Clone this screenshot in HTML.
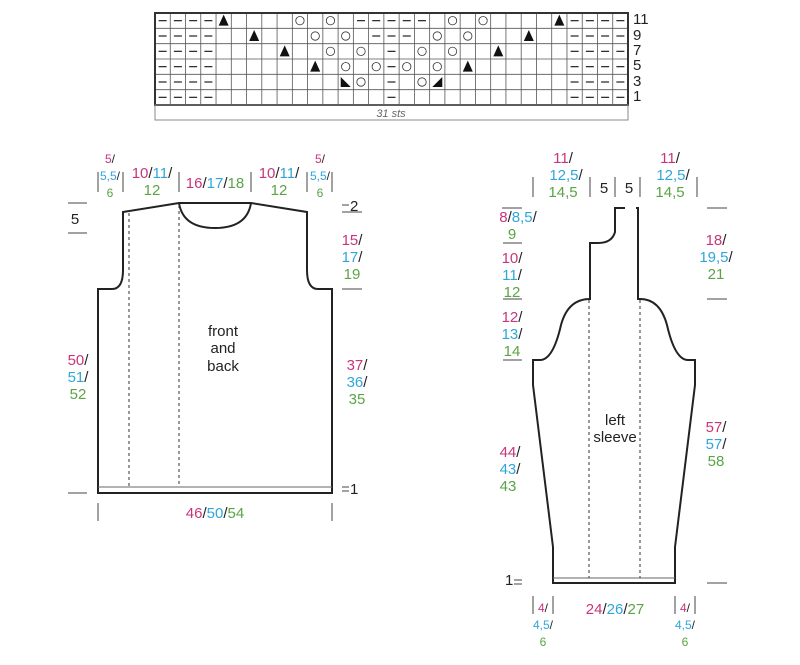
<!DOCTYPE html>
<html><head><meta charset="utf-8"><style>
html,body{margin:0;padding:0;background:#fff;}
svg{display:block;font-family:"Liberation Sans",sans-serif;}
.p{fill:#c8357a}.b{fill:#2fa6d9}.g{fill:#5aa446}.k{fill:#222}
text{font-size:15px}
.s{font-size:12px}
</style></head><body>
<svg id="s" width="800" height="665" viewBox="0 0 800 665" xmlns="http://www.w3.org/2000/svg">
<g id="chart" stroke="#555" stroke-width="0.8"></g>
<rect x="155" y="105" width="473" height="15" fill="none" stroke="#888" stroke-width="1"/>
<text x="391" y="117" text-anchor="middle" style="font-size:11px;font-style:italic" fill="#666">31 sts</text>
<g class="k" style="font-size:12px">
<text x="633" y="24">11</text><text x="633" y="40">9</text><text x="633" y="55">7</text>
<text x="633" y="70">5</text><text x="633" y="86">3</text><text x="633" y="101">1</text>
</g>

<!-- body -->
<g fill="none" stroke="#222" stroke-width="2">
<path d="M98,493 L98,289 L112,289 Q123,289 123,270 L123,212 L179,203 L251,203 L307,212 L307,270 Q307,289 318,289 L332,289 L332,493 Z"/>
<path d="M179,203 Q183,228 215,228 Q247,228 251,203"/>
</g>
<line x1="98" y1="487" x2="332" y2="487" stroke="#666" stroke-width="1"/>
<g stroke="#333" stroke-width="1" stroke-dasharray="3,3">
<line x1="129" y1="213" x2="129" y2="487"/><line x1="179" y1="205" x2="179" y2="487"/>
</g>
<g stroke="#444" stroke-width="1">
<line x1="68" y1="203" x2="87" y2="203"/><line x1="68" y1="233" x2="87" y2="233"/>
<line x1="68" y1="493" x2="87" y2="493"/>
<line x1="342" y1="212" x2="362" y2="212"/><line x1="342" y1="289" x2="362" y2="289"/>
<line x1="98" y1="503" x2="98" y2="521"/><line x1="332" y1="503" x2="332" y2="521"/>
<line x1="98" y1="172" x2="98" y2="192"/><line x1="123" y1="172" x2="123" y2="192"/>
<line x1="179" y1="172" x2="179" y2="192"/><line x1="251" y1="172" x2="251" y2="192"/>
<line x1="307" y1="172" x2="307" y2="192"/><line x1="332" y1="172" x2="332" y2="192"/>
</g>
<text x="75" y="224" text-anchor="middle" class="k">5</text>
<text x="350" y="211" class="k">2</text>
<text x="350" y="494" class="k">1</text>
<line x1="342" y1="487" x2="349" y2="487" stroke="#444"/><line x1="342" y1="491" x2="349" y2="491" stroke="#444"/>
<line x1="342" y1="205" x2="349" y2="205" stroke="#444"/>
<text x="110" y="163" text-anchor="middle" class="s"><tspan class="p">5</tspan><tspan class="k">/</tspan></text>
<text x="110" y="180" text-anchor="middle" class="s"><tspan class="b">5,5</tspan><tspan class="k">/</tspan></text>
<text x="110" y="197" text-anchor="middle" class="s g">6</text>
<text x="320" y="163" text-anchor="middle" class="s"><tspan class="p">5</tspan><tspan class="k">/</tspan></text>
<text x="320" y="180" text-anchor="middle" class="s"><tspan class="b">5,5</tspan><tspan class="k">/</tspan></text>
<text x="320" y="197" text-anchor="middle" class="s g">6</text>
<text x="152" y="178" text-anchor="middle"><tspan class="p">10</tspan><tspan class="k">/</tspan><tspan class="b">11</tspan><tspan class="k">/</tspan></text>
<text x="152" y="195" text-anchor="middle" class="g">12</text>
<text x="279" y="178" text-anchor="middle"><tspan class="p">10</tspan><tspan class="k">/</tspan><tspan class="b">11</tspan><tspan class="k">/</tspan></text>
<text x="279" y="195" text-anchor="middle" class="g">12</text>
<text x="215" y="188" text-anchor="middle"><tspan class="p">16</tspan><tspan class="k">/</tspan><tspan class="b">17</tspan><tspan class="k">/</tspan><tspan class="g">18</tspan></text>
<text x="352" y="245" text-anchor="middle"><tspan class="p">15</tspan><tspan class="k">/</tspan></text>
<text x="352" y="262" text-anchor="middle"><tspan class="b">17</tspan><tspan class="k">/</tspan></text>
<text x="352" y="279" text-anchor="middle" class="g">19</text>
<text x="78" y="365" text-anchor="middle"><tspan class="p">50</tspan><tspan class="k">/</tspan></text>
<text x="78" y="382" text-anchor="middle"><tspan class="b">51</tspan><tspan class="k">/</tspan></text>
<text x="78" y="399" text-anchor="middle" class="g">52</text>
<text x="357" y="370" text-anchor="middle"><tspan class="p">37</tspan><tspan class="k">/</tspan></text>
<text x="357" y="387" text-anchor="middle"><tspan class="b">36</tspan><tspan class="k">/</tspan></text>
<text x="357" y="404" text-anchor="middle" class="g">35</text>
<text x="215" y="518" text-anchor="middle"><tspan class="p">46</tspan><tspan class="k">/</tspan><tspan class="b">50</tspan><tspan class="k">/</tspan><tspan class="g">54</tspan></text>
<g class="k" text-anchor="middle" style="font-size:13px">
<text x="223" y="336">front</text><text x="223" y="353">and</text><text x="223" y="371">back</text>
<text x="615" y="425">left</text><text x="615" y="442">sleeve</text>
</g>

<!-- sleeve -->
<g fill="none" stroke="#222" stroke-width="2">
<path d="M625,208 L615,208 L615,232 Q612,243 598,243 L590,243 L590,299 Q568,299 561,325 Q553,360 540,360 L533,360 L533,385 L553,547 L553,583 L675,583 L675,547 L695,385 L695,360 L688,360 Q675,360 667,325 Q660,299 640,299 L638,299 L638,208 L636,208"/>
</g>
<line x1="553" y1="578" x2="675" y2="578" stroke="#666" stroke-width="1"/>
<g stroke="#333" stroke-width="1" stroke-dasharray="3,3">
<line x1="589" y1="300" x2="589" y2="578"/><line x1="640" y1="300" x2="640" y2="578"/>
</g>
<g stroke="#444" stroke-width="1">
<line x1="533" y1="177" x2="533" y2="197"/><line x1="590" y1="177" x2="590" y2="197"/>
<line x1="615" y1="177" x2="615" y2="197"/><line x1="640" y1="177" x2="640" y2="197"/>
<line x1="697" y1="177" x2="697" y2="197"/>
<line x1="502" y1="208" x2="522" y2="208"/><line x1="503" y1="243" x2="522" y2="243"/>
<line x1="503" y1="299" x2="522" y2="299"/><line x1="503" y1="360" x2="522" y2="360"/>
<line x1="707" y1="208" x2="727" y2="208"/><line x1="707" y1="299" x2="727" y2="299"/>
<line x1="707" y1="583" x2="727" y2="583"/><line x1="514" y1="580" x2="522" y2="580"/><line x1="514" y1="584" x2="522" y2="584"/>
<line x1="533" y1="596" x2="533" y2="614"/><line x1="553" y1="596" x2="553" y2="614"/>
<line x1="675" y1="596" x2="675" y2="614"/><line x1="695" y1="596" x2="695" y2="614"/>
</g>
<text x="505" y="585" class="k">1</text>
<text x="563" y="163" text-anchor="middle"><tspan class="p">11</tspan><tspan class="k">/</tspan></text>
<text x="566" y="180" text-anchor="middle"><tspan class="b">12,5</tspan><tspan class="k">/</tspan></text>
<text x="563" y="197" text-anchor="middle" class="g">14,5</text>
<text x="670" y="163" text-anchor="middle"><tspan class="p">11</tspan><tspan class="k">/</tspan></text>
<text x="673" y="180" text-anchor="middle"><tspan class="b">12,5</tspan><tspan class="k">/</tspan></text>
<text x="670" y="197" text-anchor="middle" class="g">14,5</text>
<text x="604" y="193" text-anchor="middle" class="k">5</text>
<text x="629" y="193" text-anchor="middle" class="k">5</text>
<text x="518" y="222" text-anchor="middle"><tspan class="p">8</tspan><tspan class="k">/</tspan><tspan class="b">8,5</tspan><tspan class="k">/</tspan></text>
<text x="512" y="239" text-anchor="middle" class="g">9</text>
<text x="512" y="263" text-anchor="middle"><tspan class="p">10</tspan><tspan class="k">/</tspan></text>
<text x="512" y="280" text-anchor="middle"><tspan class="b">11</tspan><tspan class="k">/</tspan></text>
<text x="512" y="297" text-anchor="middle" class="g">12</text>
<text x="512" y="322" text-anchor="middle"><tspan class="p">12</tspan><tspan class="k">/</tspan></text>
<text x="512" y="339" text-anchor="middle"><tspan class="b">13</tspan><tspan class="k">/</tspan></text>
<text x="512" y="356" text-anchor="middle" class="g">14</text>
<text x="716" y="245" text-anchor="middle"><tspan class="p">18</tspan><tspan class="k">/</tspan></text>
<text x="716" y="262" text-anchor="middle"><tspan class="b">19,5</tspan><tspan class="k">/</tspan></text>
<text x="716" y="279" text-anchor="middle" class="g">21</text>
<text x="510" y="457" text-anchor="middle"><tspan class="p">44</tspan><tspan class="k">/</tspan></text>
<text x="510" y="474" text-anchor="middle"><tspan class="b">43</tspan><tspan class="k">/</tspan></text>
<text x="508" y="491" text-anchor="middle" class="g">43</text>
<text x="716" y="432" text-anchor="middle"><tspan class="p">57</tspan><tspan class="k">/</tspan></text>
<text x="716" y="449" text-anchor="middle"><tspan class="b">57</tspan><tspan class="k">/</tspan></text>
<text x="716" y="466" text-anchor="middle" class="g">58</text>
<text x="615" y="614" text-anchor="middle"><tspan class="p">24</tspan><tspan class="k">/</tspan><tspan class="b">26</tspan><tspan class="k">/</tspan><tspan class="g">27</tspan></text>
<text x="543" y="612" text-anchor="middle" class="s"><tspan class="p">4</tspan><tspan class="k">/</tspan></text>
<text x="543" y="629" text-anchor="middle" class="s"><tspan class="b">4,5</tspan><tspan class="k">/</tspan></text>
<text x="543" y="646" text-anchor="middle" class="s g">6</text>
<text x="685" y="612" text-anchor="middle" class="s"><tspan class="p">4</tspan><tspan class="k">/</tspan></text>
<text x="685" y="629" text-anchor="middle" class="s"><tspan class="b">4,5</tspan><tspan class="k">/</tspan></text>
<text x="685" y="646" text-anchor="middle" class="s g">6</text>
</svg>
<script>
(function(){
var g=document.getElementById('chart'),NS='http://www.w3.org/2000/svg';
var x0=155,y0=13,cw=473/31,rh=92/6,h='';
for(var i=0;i<=31;i++)h+='<line x1="'+(x0+i*cw)+'" y1="'+y0+'" x2="'+(x0+i*cw)+'" y2="'+(y0+92)+'"/>';
for(var j=0;j<=6;j++)h+='<line x1="'+x0+'" y1="'+(y0+j*rh)+'" x2="'+(x0+473)+'" y2="'+(y0+j*rh)+'"/>';
h+='<rect x="'+x0+'" y="'+y0+'" width="473" height="92" fill="none" stroke="#333" stroke-width="2"/>';
var rows=[
{d:[13,14,15,16,17],t:[4,26],c:[9,11,19,21]},
{d:[14,15,16],t:[6,24],c:[10,12,18,20]},
{d:[15],t:[8,22],c:[11,13,17,19]},
{d:[15],t:[10,20],c:[12,14,16,18]},
{d:[15],t:[],c:[13,17],l:[12],r:[18]},
{d:[15],t:[],c:[]}];
rows.forEach(function(r,j){
 var d=[0,1,2,3,27,28,29,30].concat(r.d),cy=y0+j*rh+rh/2;
 d.forEach(function(c){var cx=x0+c*cw+cw/2;h+='<line x1="'+(cx-4)+'" y1="'+cy+'" x2="'+(cx+4)+'" y2="'+cy+'" stroke="#222" stroke-width="1.2"/>';});
 r.t.forEach(function(c){var cx=x0+c*cw+cw/2;h+='<polygon points="'+(cx-5)+','+(cy+5)+' '+(cx+5)+','+(cy+5)+' '+cx+','+(cy-6)+'" fill="#111" stroke="none"/>';});
 r.c.forEach(function(c){var cx=x0+c*cw+cw/2;h+='<circle cx="'+cx+'" cy="'+cy+'" r="4.2" fill="none" stroke="#333"/>';});
 (r.l||[]).forEach(function(c){var cx=x0+c*cw+cw/2;h+='<polygon points="'+(cx-5)+','+(cy-5)+' '+(cx-5)+','+(cy+5)+' '+(cx+5)+','+(cy+5)+'" fill="#111" stroke="none"/>';});
 (r.r||[]).forEach(function(c){var cx=x0+c*cw+cw/2;h+='<polygon points="'+(cx+5)+','+(cy-5)+' '+(cx+5)+','+(cy+5)+' '+(cx-5)+','+(cy+5)+'" fill="#111" stroke="none"/>';});
});
g.innerHTML=h;
})();
</script>
</body></html>
